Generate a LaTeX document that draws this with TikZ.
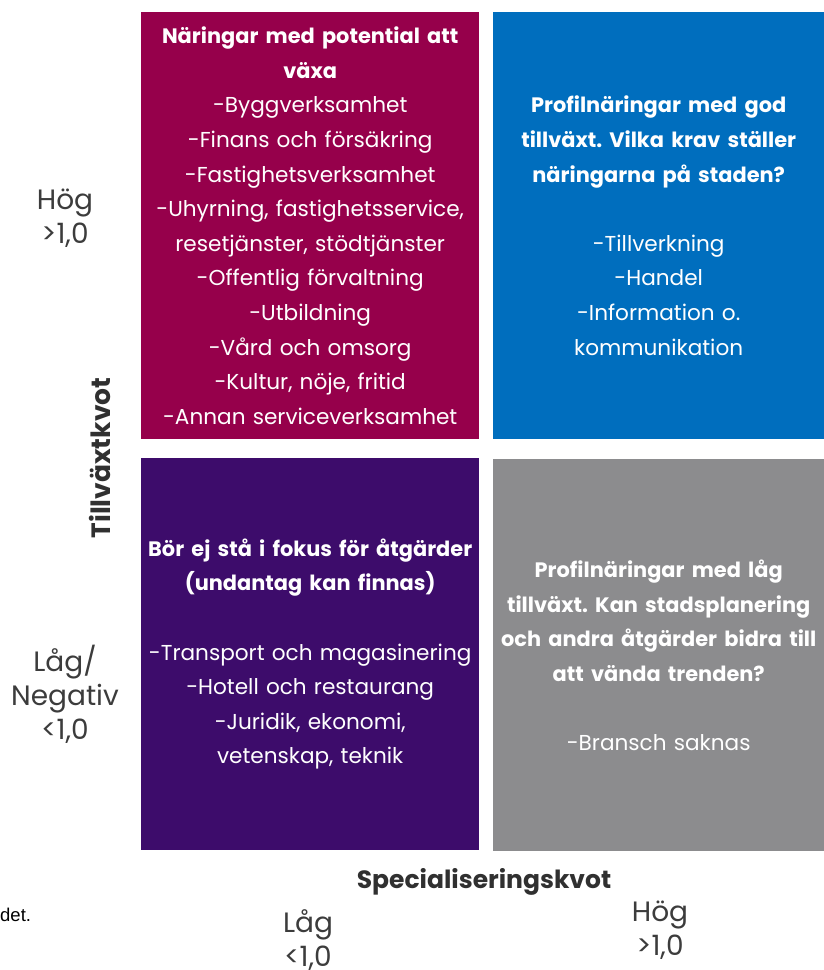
\documentclass[tikz,border=0pt]{standalone}
\usepackage{fontspec}
\setmainfont{Poppins}
\newfontfamily\notefont{Liberation Sans}
\frenchspacing
\newcommand\qhd[1]{{\fontsize{20.9}{34.6}\selectfont\bfseries #1}}
\definecolor{qmag}{RGB}{150,0,75}
\definecolor{qblue}{RGB}{0,110,190}
\definecolor{qpurp}{RGB}{61,12,107}
\definecolor{qgray}{RGB}{140,140,142}
\definecolor{labgray}{RGB}{60,60,60}
\tikzset{
  quad/.style={anchor=north west, inner sep=0pt, text=white, align=center,
    font=\fontsize{21.6}{34.6}\selectfont},
  axlab/.style={text=labgray, align=center, inner sep=0pt,
    font=\fontsize{28}{34}\selectfont},
  axtitle/.style={text=labgray!80!black, inner sep=0pt}
}
\begin{document}
\begin{tikzpicture}[x=1pt,y=-1pt]
\useasboundingbox (0,0) rectangle (824,970);
\node[quad, fill=qmag, minimum width=338pt, minimum height=427pt, text width=336pt] (q1) at (141,12)
 {\qhd{Näringar med potential att}\\
  \qhd{växa}\\
  -Byggverksamhet\\
  -Finans och försäkring\\
  -Fastighetsverksamhet\\
  -Uhyrning, fastighetsservice,\\
  resetjänster, stödtjänster\\
  -Offentlig förvaltning\\
  -Utbildning\\
  -Vård och omsorg\\
  -Kultur, nöje, fritid\\
  -Annan serviceverksamhet};
\node[quad, fill=qblue, minimum width=331pt, minimum height=427pt, text width=329pt] (q2) at (493,12)
 {\qhd{Profilnäringar med god}\\
  \qhd{tillväxt. Vilka krav ställer}\\
  \qhd{näringarna på staden?}\\[34.6pt]
  -Tillverkning\\
  -Handel\\
  -Information o.\\
  kommunikation};
\node[quad, fill=qpurp, minimum width=338pt, minimum height=392pt, text width=336pt] (q3) at (141,458)
 {\qhd{Bör ej stå i fokus för åtgärder}\\
  \qhd{(undantag kan finnas)}\\[34.6pt]
  -Transport och magasinering\\
  -Hotell och restaurang\\
  -Juridik, ekonomi,\\
  vetenskap, teknik};
\node[quad, fill=qgray, minimum width=331pt, minimum height=392pt, text width=329pt] (q4) at (493,459)
 {\qhd{Profilnäringar med låg}\\
  \qhd{tillväxt. Kan stadsplanering}\\
  \qhd{och andra åtgärder bidra till}\\
  \qhd{att vända trenden?}\\[34.6pt]
  -Bransch saknas};
\node[axlab] (yhigh) at (65,218) {Hög\\>1,0};
\node[axlab] (ylow) at (65,694) {Låg/\\Negativ\\<1,0};
\node[axtitle, rotate=90, font=\fontsize{26.5}{30}\selectfont\bfseries] (ytitle) at (100,458) {Tillväxtkvot};
\node[axtitle, font=\fontsize{25}{30}\selectfont\bfseries] (xtitle) at (484,882) {Specialiseringskvot};
\node[axlab] (xlow) at (308,940) {Låg\\<1,0};
\node[axlab] (xhigh) at (660,930) {Hög\\>1,0};
\node[anchor=west, inner sep=0pt, font=\notefont\fontsize{18.5}{20}\selectfont] (note) at (0,915) {det.};
\end{tikzpicture}
\end{document}
